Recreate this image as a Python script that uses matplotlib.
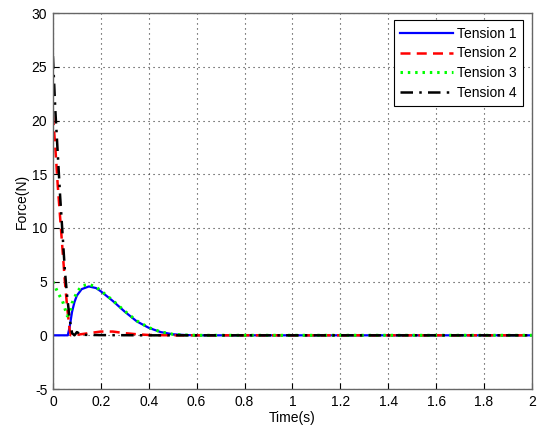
import matplotlib
matplotlib.use("Agg")
import matplotlib.pyplot as plt

plt.rcParams['font.family'] = ['Liberation Sans', 'DejaVu Sans']
plt.rcParams['axes.unicode_minus'] = False

# Time points (s) and tension values (N)
t1 = [0.0, 0.062, 0.07, 0.08, 0.09, 0.10, 0.12, 0.15, 0.18, 0.20, 0.25, 0.30, 0.35, 0.40, 0.45, 0.50, 0.55, 0.60, 1.0, 2.0]
tension1 = [0.0, 0.0, 0.8, 2.2, 3.1, 3.7, 4.3, 4.55, 4.4, 4.1, 3.2, 2.2, 1.3, 0.7, 0.3, 0.1, 0.03, 0.0, 0.0, 0.0]

t2 = [0.0, 0.01, 0.02, 0.03, 0.04, 0.05, 0.06, 0.07, 0.075, 0.10, 0.15, 0.20, 0.25, 0.30, 0.35, 0.40, 0.50, 1.0, 2.0]
tension2 = [20.5, 17.5, 14.0, 11.0, 8.0, 5.0, 2.5, 0.5, 0.0, 0.05, 0.2, 0.35, 0.35, 0.2, 0.1, 0.03, 0.0, 0.0, 0.0]

t3 = [0.0, 0.02, 0.04, 0.05, 0.06, 0.07, 0.08, 0.10, 0.12, 0.15, 0.18, 0.20, 0.25, 0.30, 0.35, 0.40, 0.45, 0.50, 0.55, 0.60, 1.0, 2.0]
tension3 = [5.0, 4.0, 3.2, 2.5, 1.8, 2.0, 3.0, 4.0, 4.6, 4.75, 4.5, 4.15, 3.25, 2.25, 1.35, 0.72, 0.32, 0.1, 0.03, 0.0, 0.0, 0.0]

t4 = [0.0, 0.01, 0.02, 0.03, 0.04, 0.05, 0.06, 0.07, 0.08, 0.09, 0.10, 0.12, 0.20, 0.40, 0.70, 1.0, 2.0]
tension4 = [26.0, 21.0, 17.0, 13.0, 9.5, 6.0, 3.5, 1.5, 0.2, 0.0, 0.3, 0.05, 0.02, 0.0, 0.0, 0.0, 0.0]

xticks = [0, 0.2, 0.4, 0.6, 0.8, 1, 1.2, 1.4, 1.6, 1.8, 2]
xticklabels = ['0', '0.2', '0.4', '0.6', '0.8', '1', '1.2', '1.4', '1.6', '1.8', '2']
yticks = [-5, 0, 5, 10, 15, 20, 25, 30]

fig = plt.figure(figsize=(5.40, 4.33), dpi=100)
ax = fig.add_axes([0.098, 0.1016, 0.887, 0.868])

ax.plot(t1, tension1, color='#0000ff', lw=1.6, linestyle='-', label='Tension 1')
ax.plot(t2, tension2, color='#ff0000', lw=1.8, linestyle=(0, (4, 2.5)), label='Tension 2')
ax.plot(t3, tension3, color='#00ff00', lw=2.2, linestyle=(0, (0.8, 1.6)), label='Tension 3')
ax.plot(t4, tension4, color='#000000', lw=1.8, linestyle=(0, (5, 2.5, 1, 2.5)), label='Tension 4')

ax.set_xlim(0, 2)
ax.set_ylim(-5, 30)
ax.set_xticks(xticks)
ax.set_xticklabels(xticklabels)
ax.set_yticks(yticks)
ax.tick_params(direction='in', length=4, labelsize=10, colors='#000000', pad=4)
for s in ax.spines.values():
    s.set_color('#666666')
    s.set_linewidth(1.0)
ax.grid(True, linestyle=(0, (1, 3.5)), color='#333333', linewidth=0.8)
ax.set_axisbelow(True)

ax.set_xlabel('Time(s)', fontsize=10, labelpad=2)
ax.set_ylabel('Force(N)', fontsize=10, labelpad=2)

leg = ax.legend(loc='upper right', bbox_to_anchor=(0.981, 0.981), fontsize=10,
                fancybox=False, framealpha=1, edgecolor='#000000',
                handlelength=3.8, handletextpad=0.3, borderpad=0.45, labelspacing=0.42,
                borderaxespad=0)
leg.get_frame().set_linewidth(0.8)

fig.savefig('out.png', dpi=100)
